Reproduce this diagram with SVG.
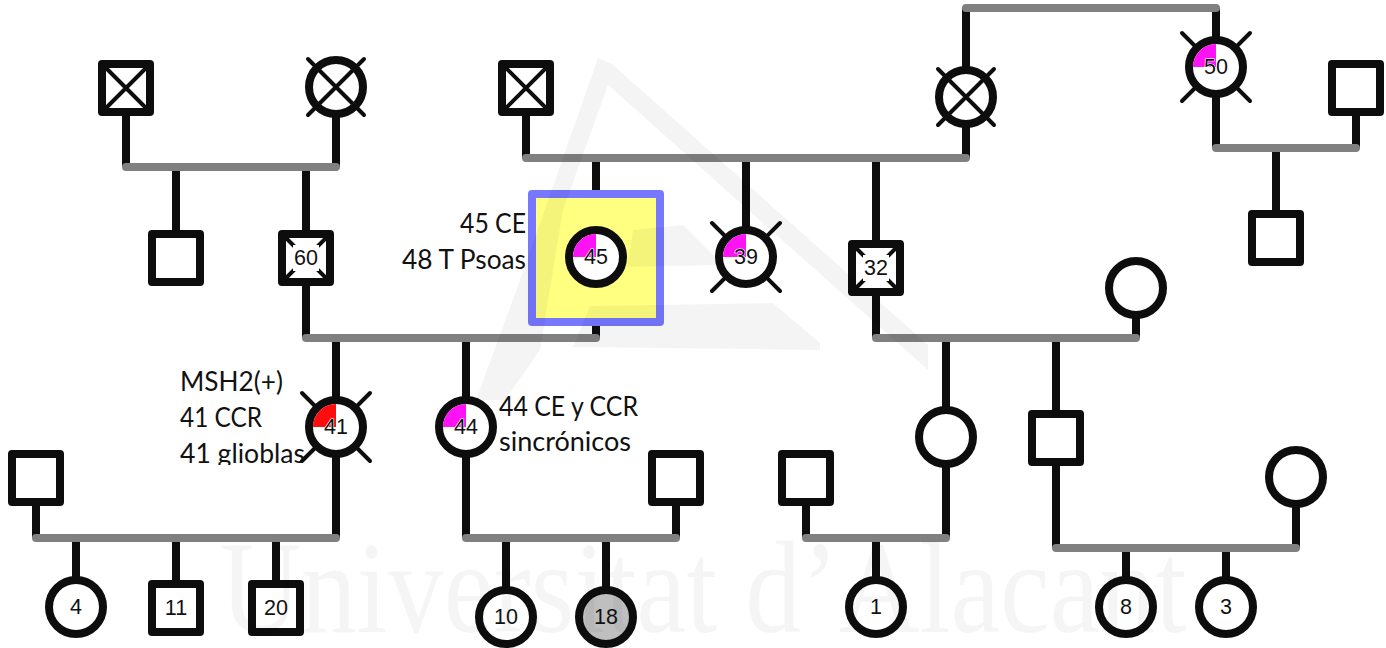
<svg xmlns="http://www.w3.org/2000/svg" width="1386" height="648" viewBox="0 0 1386 648">
<style>
.v{stroke:#0d0d0d;stroke-width:8;fill:none}
.m{stroke:#808080;stroke-width:8;fill:none;stroke-linecap:round}
.s{fill:#fff;stroke:#0d0d0d;stroke-width:8;stroke-linejoin:round}
.o{fill:none;stroke:#0d0d0d;stroke-width:8}
.x{stroke:#0d0d0d;stroke-width:4;stroke-linecap:round;fill:none}
.n{font-family:"Liberation Sans",Arial,sans-serif;font-size:21.5px;fill:#111;text-anchor:middle}
.a{paint-order:stroke;stroke:#fff;stroke-width:1.2px}
.t{font-family:Lato,"Open Sans",sans-serif;font-size:26px;fill:#111}
.w{fill:#000;fill-opacity:.045}
</style>
<defs>
<clipPath id="clipT"><rect x="170" y="360" width="150" height="105"/></clipPath>
<rect id="sq" class="s" x="-24" y="-24" width="48" height="48"/>
<circle id="ci" class="s" r="27"/>
<g id="dq"><rect class="s" x="-24" y="-24" width="48" height="48"/><path class="x" d="M-23-23L23 23M23-23L-23 23"/></g>
<g id="dc"><circle r="27" fill="#fff"/><path class="x" d="M-28-28L28 28M28-28L-28 28"/><circle class="o" r="27"/></g>
<g id="ds"><rect class="s" x="-24" y="-24" width="48" height="48"/><path class="x" d="M-23-23L23 23M23-23L-23 23"/><rect x="-13" y="-13" width="26" height="26" fill="#fff"/></g>
<g id="oc"><path class="x" d="M-34-34L34 34M34-34L-34 34"/><circle class="s" r="27"/></g>
<path id="pk" fill="#ff12f5" d="M0 0V-23A23 23 0 0 0-23 0Z"/>
<path id="rd" fill="#ff0d0d" d="M0 0V-23A23 23 0 0 0-23 0Z"/>
</defs>
<rect width="1386" height="648" fill="#fff"/>
<g id="connectors">
<path class="v" d="M126 88V167M336 87V167M176 167V258M306 167V338M336 338V538M466 338V538M596 158V338M746 158V258M876 158V338M526 88V158M966 8V158M1216 8V148M1356 88V148M1276 148V238M946 338V538M1056 338V548M1136 288V338M36 478V538M676 478V538M806 478V538M1296 478V548M76 538V607M176 538V608M276 538V608M506 538V617M606 538V617M876 538V607M1126 548V607M1226 548V607"/>
<path class="m" d="M126 167H336M306 338H596M526 158H966M966 8H1216M1216 148H1356M876 338H1136M36 538H336M466 538H676M806 538H946M1056 548H1296"/>
</g>
<g id="highlight"><rect x="532" y="194" width="128" height="128" fill="#ffff80" stroke="#7777ff" stroke-width="8" stroke-linejoin="round"/></g>
<g id="n1"><use href="#dq" x="126" y="88"/></g>
<g id="n2"><use href="#dc" x="336" y="87"/></g>
<g id="n3"><use href="#dq" x="526" y="88"/></g>
<g id="n4"><use href="#dc" x="966" y="97"/></g>
<g id="n5"><use href="#oc" x="1216" y="67"/><use href="#pk" x="1216" y="67"/><text class="n a" x="1216" y="74">50</text></g>
<g id="n6"><use href="#sq" x="1356" y="88"/></g>
<g id="n7"><use href="#sq" x="176" y="258"/></g>
<g id="n8"><use href="#ds" x="306" y="258"/><text class="n" x="306" y="265">60</text></g>
<g id="n9"><circle class="s" cx="596" cy="257" r="27"/><use href="#pk" x="596" y="257"/><text class="n a" x="596" y="264">45</text></g>
<g id="n10"><use href="#oc" x="746" y="257"/><use href="#pk" x="746" y="257"/><text class="n a" x="746" y="264">39</text></g>
<g id="n11"><use href="#ds" x="876" y="268"/><text class="n" x="876" y="275">32</text></g>
<g id="n12"><use href="#sq" x="1276" y="238"/></g>
<g id="n13"><use href="#ci" x="1136" y="288"/></g>
<g id="n14"><use href="#oc" x="336" y="427"/><use href="#rd" x="336" y="427"/><text class="n a" x="336" y="434">41</text></g>
<g id="n15"><use href="#ci" x="466" y="427"/><use href="#pk" x="466" y="427"/><text class="n a" x="466" y="434">44</text></g>
<g id="n16"><use href="#ci" x="946" y="437"/></g>
<g id="n17"><use href="#sq" x="1056" y="438"/></g>
<g id="n18"><use href="#sq" x="36" y="478"/></g>
<g id="n19"><use href="#sq" x="676" y="478"/></g>
<g id="n20"><use href="#sq" x="806" y="478"/></g>
<g id="n21"><use href="#ci" x="1296" y="477"/></g>
<g id="n22"><use href="#ci" x="76" y="607"/><text class="n" x="76" y="614">4</text></g>
<g id="n23"><use href="#sq" x="176" y="608"/><text class="n" x="176" y="615">11</text></g>
<g id="n24"><use href="#sq" x="276" y="608"/><text class="n" x="276" y="615">20</text></g>
<g id="n25"><use href="#ci" x="506" y="617"/><text class="n" x="506" y="624">10</text></g>
<g id="n26"><circle class="s" cx="606" cy="617" r="27" style="fill:#bfbfbf"/><text class="n" x="606" y="624">18</text></g>
<g id="n27"><use href="#ci" x="876" y="607"/><text class="n" x="876" y="614">1</text></g>
<g id="n28"><use href="#ci" x="1126" y="607"/><text class="n" x="1126" y="614">8</text></g>
<g id="n29"><use href="#ci" x="1226" y="607"/><text class="n" x="1226" y="614">3</text></g>
<g id="labels">
<text class="t" x="460" y="233" textLength="66" lengthAdjust="spacingAndGlyphs">45 CE</text>
<text class="t" x="402" y="269" textLength="124" lengthAdjust="spacingAndGlyphs">48 T Psoas</text>
<text class="t" x="180" y="391" textLength="103" lengthAdjust="spacingAndGlyphs">MSH2(+)</text>
<text class="t" x="180" y="427" textLength="82" lengthAdjust="spacingAndGlyphs">41 CCR</text>
<g clip-path="url(#clipT)"><text class="t" x="180" y="463" textLength="125" lengthAdjust="spacingAndGlyphs">41 glioblas</text></g>
<text class="t" x="499" y="416" textLength="139" lengthAdjust="spacingAndGlyphs">44 CE y CCR</text>
<text class="t" x="499" y="451" textLength="132" lengthAdjust="spacingAndGlyphs">sincrónicos</text>
</g>
<g id="watermark">
<path class="w" d="M598 58L612 64L928 345L928 370L608 85L563 210L540 350L505 400L476 400L520 280Z"/>
<path class="w" d="M590 306L773 303L820 343L820 350L573 347Z"/>
<path class="w" d="M633 230L683 225L723 265L627 267Z"/>
<text x="220" y="632" transform="translate(220 0) scale(.848 1) translate(-220 0)" font-family="Liberation Serif,serif" font-size="132" fill="#000" fill-opacity=".04">Universitat d’Alacant</text>
</g>
</svg>
